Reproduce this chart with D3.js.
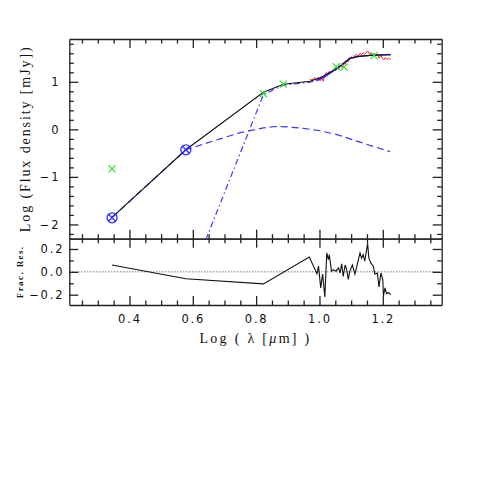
<!DOCTYPE html>
<html>
<head>
<meta charset="utf-8">
<script src="https://cdn.jsdelivr.net/npm/d3@7"></script>
<style>
  body { margin: 0; background: #fff; }
  svg { display: block; }
  .tick text { font-family: "DejaVu Sans", sans-serif; font-size: 11.5px; letter-spacing: 1.8px; fill: #111; }
  .domain, .tick line { stroke: #222; stroke-width: 1.3; }
  .title { font-family: "Liberation Serif", serif; font-size: 14px; fill: #111; }
</style>
</head>
<body>
<div id="chart"></div>
<script>
// photometry: circled points (blue) and crosses (green)
const circX = [0.345, 0.578];
const circY = [-1.86, -0.43];
const crossX = [0.345, 0.823, 0.886, 1.053, 1.078, 1.172];
const crossY = [-0.83, 0.75, 0.95, 1.32, 1.31, 1.55];

// total model (black)
const totalX = [0.345, 0.578, 0.823, 0.886, 0.97, 1.0, 1.02, 1.044, 1.07, 1.096, 1.13, 1.17, 1.225];
const totalY = [-1.85, -0.43, 0.78, 0.95, 1.01, 1.08, 1.15, 1.24, 1.36, 1.50, 1.54, 1.56, 1.57];

// cold component (blue dashed)
const coldX = [0.345, 0.578, 0.686, 0.75, 0.823, 0.86, 0.9, 0.95, 1.002, 1.055, 1.128, 1.223];
const coldY = [-1.85, -0.43, -0.2, -0.07, 0.03, 0.06, 0.05, 0.02, -0.03, -0.11, -0.27, -0.47];

// stellar component (blue dash-dot, then solid over the spectrum)
const starX = [0.578, 0.823, 0.886, 0.97, 0.99];
const starY = [-3.38, 0.73, 0.93, 0.99, 1.02];
const starSpecX = [0.99, 1.02, 1.044, 1.07, 1.096, 1.12, 1.17, 1.225];
const starSpecY = [1.02, 1.12, 1.23, 1.35, 1.49, 1.53, 1.56, 1.57];

// spectrum (red)
const specX = [0.970, 0.976, 0.981, 0.986, 0.992, 0.997, 1.002, 1.007, 1.012, 1.017, 1.022, 1.027, 1.031,
  1.036, 1.041, 1.046, 1.051, 1.056, 1.061, 1.066, 1.071, 1.076, 1.081, 1.086, 1.091, 1.096, 1.101, 1.106,
  1.111, 1.117, 1.122, 1.128, 1.133, 1.138, 1.143, 1.149, 1.152, 1.156, 1.162, 1.167, 1.172, 1.177, 1.183,
  1.188, 1.194, 1.199, 1.203, 1.208, 1.213, 1.218, 1.225];
const specY = [1.05, 1.04, 1.06, 1.09, 1.04, 1.10, 1.02, 1.09, 1.01, 1.14, 1.20, 1.16, 1.22,
  1.19, 1.24, 1.27, 1.23, 1.29, 1.26, 1.34, 1.30, 1.38, 1.37, 1.44, 1.42, 1.49, 1.52, 1.50,
  1.55, 1.57, 1.54, 1.60, 1.57, 1.61, 1.58, 1.63, 1.65, 1.60, 1.59, 1.58, 1.59, 1.56, 1.57,
  1.50, 1.56, 1.49, 1.46, 1.51, 1.47, 1.49, 1.47];

// fractional residuals
const resX = [0.345, 0.578, 0.823, 0.968, 0.981, 0.992, 0.997, 1.004, 1.01, 1.017, 1.023, 1.028, 1.031,
  1.038, 1.044, 1.052, 1.06, 1.065, 1.07, 1.075, 1.081, 1.086, 1.091, 1.096, 1.104, 1.112, 1.119,
  1.128, 1.133, 1.138, 1.143, 1.149, 1.152, 1.156, 1.162, 1.17, 1.175, 1.183, 1.188, 1.194, 1.2,
  1.202, 1.207, 1.212, 1.218, 1.225];
const resY = [0.06, -0.06, -0.105, 0.13, 0.05, -0.017, 0.05, -0.14, -0.02, -0.22, 0.165, 0.107, 0.15,
  0.006, 0.02, 0.006, 0.035, -0.01, 0.07, -0.04, 0.06, 0.02, -0.067, 0.006, 0.06, -0.02, 0.06,
  0.165, 0.12, 0.15, 0.093, 0.195, 0.25, 0.12, 0.078, 0.05, -0.02, -0.01, -0.133, -0.01, -0.07,
  -0.21, -0.14, -0.19, -0.18, -0.2];

// ticks
const xMajor = [0.4, 0.6, 0.8, 1.0, 1.2];
const xMinor = [0.25, 0.3, 0.35, 0.45, 0.5, 0.55, 0.65, 0.7, 0.75, 0.85, 0.9, 0.95, 1.05, 1.1, 1.15, 1.25, 1.3, 1.35];
const yMajor = [-2, -1, 0, 1];
const yMinor = [-2.2, -1.8, -1.6, -1.4, -1.2, -0.8, -0.6, -0.4, -0.2, 0.2, 0.4, 0.6, 0.8, 1.2, 1.4, 1.6, 1.8];
const rMajor = [-0.2, 0, 0.2];
const rMinor = [-0.1, 0.1];

const W = 480, H = 480;
const L = 69.3, R = 441.7, T = 39, MID = 238.7, B = 305;
const majorLen = 9, minorLen = 4.5;

const svg = d3.select("#chart").append("svg")
  .attr("width", W).attr("height", H);

const x = d3.scaleLinear().domain([0.21, 1.386]).range([L, R]);
const y = d3.scaleLinear().domain([-2.3, 1.9]).range([MID, T]);
const yr = d3.scaleLinear().domain([-0.29, 0.29]).range([B, MID]);

svg.append("defs").append("clipPath").attr("id", "clipTop")
  .append("rect").attr("x", L).attr("y", T).attr("width", R - L).attr("height", MID - T);

// draw a set of inward ticks on one side of a panel
function side(axisFn, scale, pos, major, minor, fmt, pad) {
  const g = svg.append("g").attr("transform", pos);
  g.call(axisFn(scale).tickValues(minor).tickSize(-minorLen).tickSizeOuter(0).tickFormat(""));
  g.select(".domain").remove();
  const g2 = svg.append("g").attr("transform", pos);
  g2.call(axisFn(scale).tickValues(major).tickSizeInner(-majorLen).tickSizeOuter(0)
    .tickPadding(pad || 0).tickFormat(fmt || ""));
  return g2;
}

const f1 = d3.format(".1f"), f0 = d3.format("d");

// top panel axes
side(d3.axisTop, x, `translate(0,${T})`, xMajor, xMinor);
side(d3.axisBottom, x, `translate(0,${MID})`, xMajor, xMinor);
side(d3.axisLeft, y, `translate(${L},0)`, yMajor, yMinor, f0, 9);
side(d3.axisRight, y, `translate(${R},0)`, yMajor, yMinor);

// bottom panel axes
side(d3.axisTop, x, `translate(0,${MID})`, xMajor, xMinor);
side(d3.axisBottom, x, `translate(0,${B})`, xMajor, xMinor, f1, 10);
side(d3.axisLeft, yr, `translate(${L},0)`, rMajor, rMinor, f1, 5);
side(d3.axisRight, yr, `translate(${R},0)`, rMajor, rMinor);

const line = d3.line().x(d => x(d[0])).y(d => y(d[1]));
const rline = d3.line().x(d => x(d[0])).y(d => yr(d[1]));
const pts = (xs, ys) => xs.map((v, i) => [v, ys[i]]);

const plot = svg.append("g").attr("clip-path", "url(#clipTop)");

plot.append("path").datum(pts(coldX, coldY)).attr("d", line)
  .attr("fill", "none").attr("stroke", "#3a3aff").attr("stroke-width", 1.2)
  .attr("stroke-dasharray", "7,4");

plot.append("path").datum(pts(starX, starY)).attr("d", line)
  .attr("fill", "none").attr("stroke", "#3a3aff").attr("stroke-width", 1.2)
  .attr("stroke-dasharray", "6,3,1.5,3");

plot.append("path").datum(pts(specX, specY)).attr("d", line)
  .attr("fill", "none").attr("stroke", "#ff2020").attr("stroke-width", 1);

plot.append("path").datum(pts(starSpecX, starSpecY)).attr("d", line)
  .attr("fill", "none").attr("stroke", "#2020ff").attr("stroke-width", 1.3);

plot.append("path").datum(pts(totalX, totalY)).attr("d", line)
  .attr("fill", "none").attr("stroke", "#111").attr("stroke-width", 1.1);

// circled crosses
const circ = plot.selectAll(".circ").data(pts(circX, circY)).join("g")
  .attr("transform", d => `translate(${x(d[0])},${y(d[1])})`)
  .attr("stroke", "#2f2fff").attr("stroke-width", 1.3).attr("fill", "none");
circ.append("circle").attr("r", 5);
circ.append("path").attr("d", "M-3.5,-3.5L3.5,3.5M-3.5,3.5L3.5,-3.5");

// green crosses
plot.selectAll(".cross").data(pts(crossX, crossY)).join("path")
  .attr("transform", d => `translate(${x(d[0])},${y(d[1])})`)
  .attr("d", "M-3.5,-3.5L3.5,3.5M-3.5,3.5L3.5,-3.5")
  .attr("stroke", "#2ee02e").attr("stroke-width", 1.2);

// residual panel
svg.append("line")
  .attr("x1", L).attr("x2", R).attr("y1", yr(0)).attr("y2", yr(0))
  .attr("stroke", "#333").attr("stroke-width", 1).attr("stroke-dasharray", "1,2");

svg.append("path").datum(pts(resX, resY)).attr("d", rline)
  .attr("fill", "none").attr("stroke", "#111").attr("stroke-width", 1.1);

// titles
svg.append("text").attr("class", "title")
  .attr("x", (L + R) / 2).attr("y", 342.5).attr("text-anchor", "middle")
  .style("letter-spacing", "2.3px")
  .html('Log ( λ [<tspan font-style="italic">μ</tspan>m] )');

svg.append("text").attr("class", "title")
  .attr("transform", `translate(30,${(T + MID) / 2}) rotate(-90)`)
  .attr("text-anchor", "middle").style("letter-spacing", "1.9px")
  .text("Log (Flux density [mJy])");

svg.append("text").attr("class", "title")
  .attr("transform", `translate(22.5,${yr(0)}) rotate(-90)`)
  .attr("text-anchor", "middle").style("font-size", "9px").style("font-weight", "bold")
  .style("letter-spacing", "1.4px")
  .text("Frac. Res.");
</script>
</body>
</html>
